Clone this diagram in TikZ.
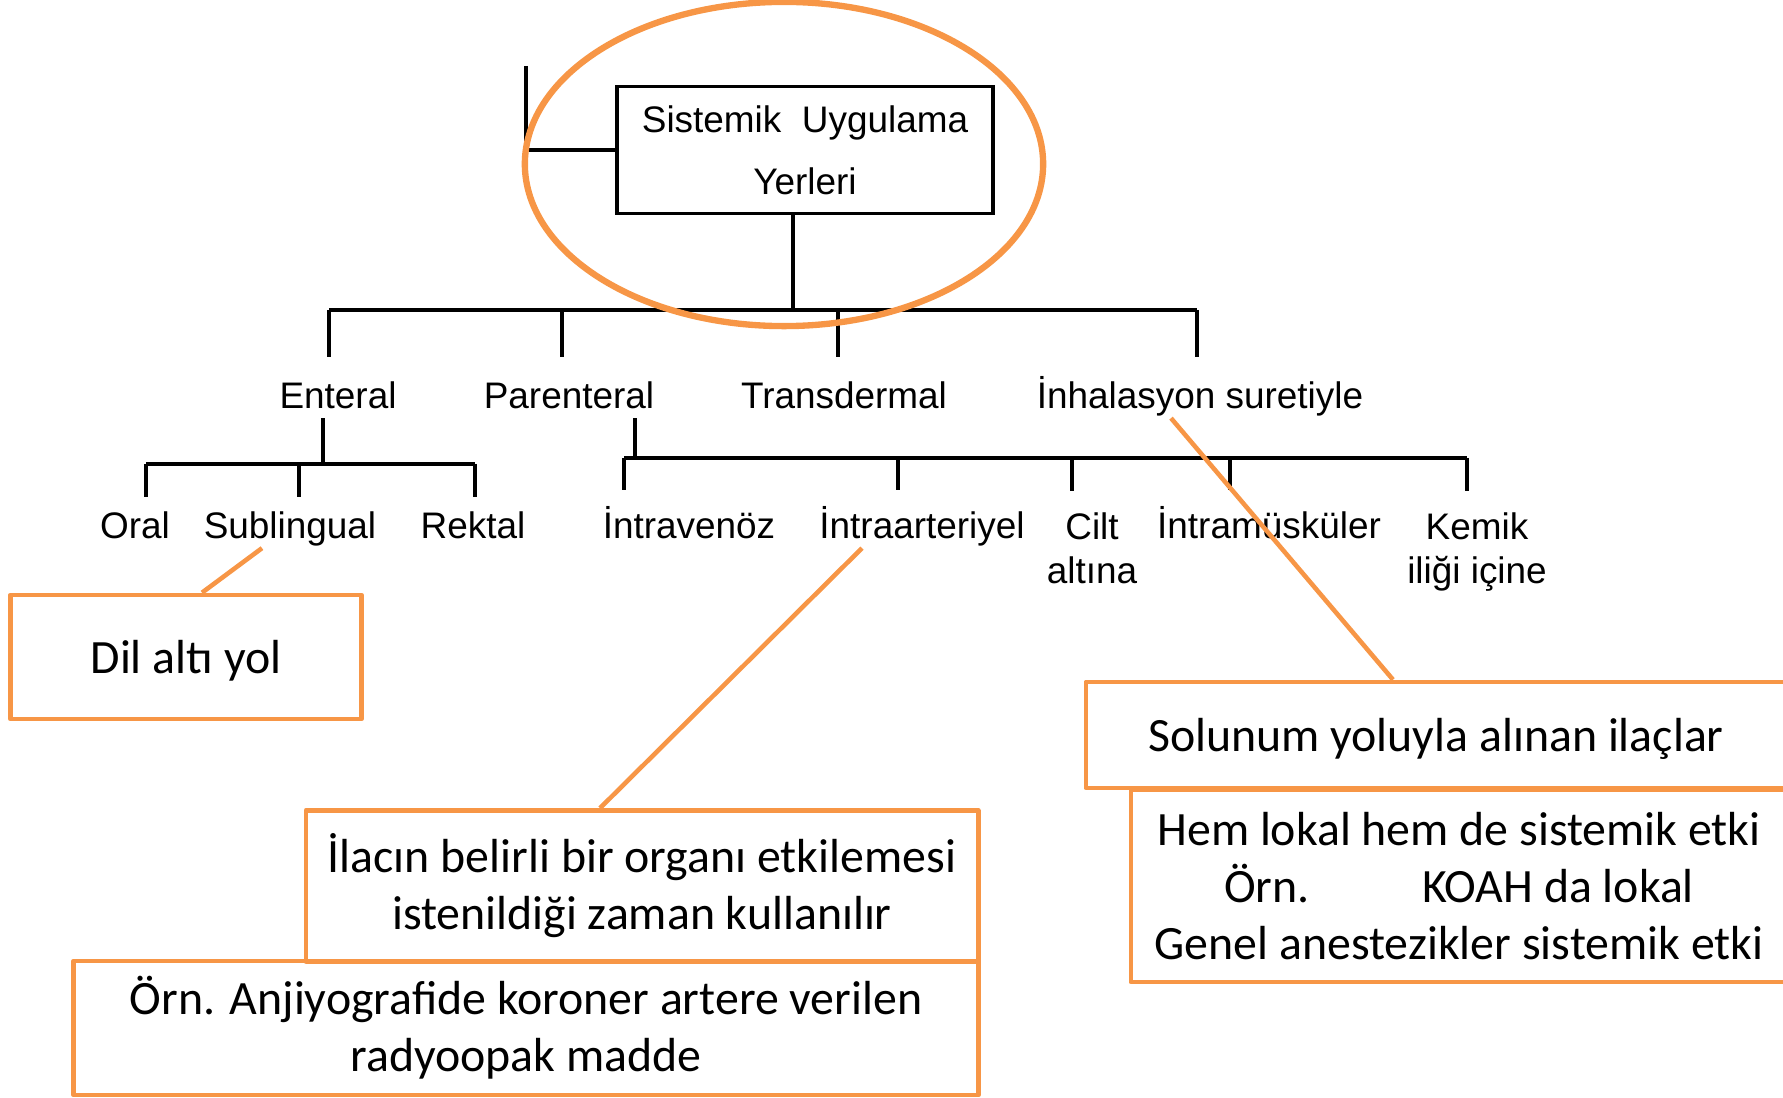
\documentclass[tikz,border=0pt]{standalone}
\usepackage{fontspec}
\newfontfamily\treefont{Liberation Sans}
\newfontfamily\notefont{Carlito}
\definecolor{noteorange}{HTML}{F79646}

\begin{document}
\begin{tikzpicture}[x = 0.01cm, y = -0.01cm,
	tree/.style = {line width = 1pt, color = black},
	route/.style = {font = \treefont\fontsize{10.5}{12.6}\selectfont, inner sep = 0pt, text height = 7.7pt, text depth = 2.4pt, anchor = base},
	twoline/.style = {font = \treefont\fontsize{10.5}{12.6}\selectfont, inner sep = 0pt, align = center, anchor = north},
	note/.style = {draw = noteorange, line width = 1.3pt, line join = round, font = \notefont\fontsize{13.6}{16.2}\selectfont, align = center, inner sep = 0pt},
	pointer/.style = {draw = noteorange, line width = 1.3pt},
	ring/.style = {draw = noteorange, line width = 1.8pt}]

	% Page frame (pixels of the slide, y pointing down)

	\useasboundingbox (0, 0) rectangle (1783, 1098);

	% Chart of the routes

	\node [draw, tree, minimum width = 3.76cm, minimum height = 1.27cm, align = center, inner sep = 0pt,
		font = \treefont\fontsize{10.5}{17.6}\selectfont] (root) at (805, 150) {Sistemik\ \ Uygulama\\Yerleri};

	\node [route] (enteral) at (338, 409) {Enteral};
	\node [route] (parenteral) at (569, 409) {Parenteral};
	\node [route] (transdermal) at (844, 409) {Transdermal};
	\node [route] (inhalasyon) at (1200, 409) {İnhalasyon suretiyle};

	\node [route] (oral) at (135, 539) {Oral};
	\node [route] (sublingual) at (290, 539) {Sublingual};
	\node [route] (rektal) at (473, 539) {Rektal};

	\node [route] (intravenoz) at (689, 539) {İntravenöz};
	\node [route] (intraarteriyel) at (922, 539) {İntraarteriyel};
	\node [twoline] (cilt) at (1092, 512) {Cilt\\altına};
	\node [route] (intramuskuler) at (1269, 539) {İntramüsküler};
	\node [twoline] (kemik) at (1477, 512) {Kemik\\iliği içine};

	% Bracket lines

	\coordinate (stub) at (526, 66);
	\coordinate (mainbus) at (793, 310);
	\coordinate (busL) at (329, 310);
	\coordinate (busR) at (1197, 310);
	\coordinate (entbus) at (323, 464);
	\coordinate (entL) at (146, 464);
	\coordinate (entR) at (475, 464);
	\coordinate (parbus) at (635, 458);
	\coordinate (parL) at (624, 458);
	\coordinate (parR) at (1467, 458);

	\begin{scope}[tree]

		\draw (stub) |- (root.west);
		\draw (root.south -| mainbus) -- (mainbus);
		\draw (busL) -- (busR);
		\foreach \n/\x in {enteral/329, parenteral/562, transdermal/838, inhalasyon/1197}
			\draw [shorten >= 7pt] (mainbus -| \x,0) -- (\n.north -| \x,0);

		\draw (enteral.south -| entbus) -- (entbus);
		\draw (entL) -- (entR);
		\foreach \n/\x in {oral/146, sublingual/299, rektal/475}
			\draw [shorten >= 4pt] (entbus -| \x,0) -- (\n.north -| \x,0);

		\draw (parenteral.south -| parbus) -- (parbus);
		\draw (parL) -- (parR);
		\foreach \n/\x in {intravenoz/624, intraarteriyel/898, cilt/1072, intramuskuler/1230, kemik/1467}
			\draw [shorten >= 6pt] (parbus -| \x,0) -- (\n.north -| \x,0);

	\end{scope}

	% Notes

	\node [note, text depth = 0pt, minimum width = 3.51cm, minimum height = 1.24cm] (dil) at (186, 657) {Dil altı yol};
	\node [note, minimum width = 6.72cm, minimum height = 1.51cm] (ilacin) at (642, 886) {İlacın belirli bir organı etkilemesi\\istenildiği zaman kullanılır};
	\node [note, minimum width = 9.04cm, minimum height = 1.34cm] (ornek) at (526, 1028) {Örn. Anjiyografide koroner artere verilen\\radyoopak madde};
	\node [note, text depth = 0pt, minimum width = 7cm, minimum height = 1.06cm] (solunum) at (1436, 735) {Solunum yoluyla alınan ilaçlar};
	\node [note, minimum width = 6.56cm, minimum height = 1.92cm] (hemlokal) at (1459, 886) {Hem lokal hem de sistemik etki\\Örn.\hspace{2.35em}KOAH da lokal\\Genel anestezikler sistemik etki};

	\draw [pointer] ([xshift = -0.28cm] sublingual.south) -- ([xshift = 0.16cm] dil.north);
	\draw [pointer] ([xshift = -0.6cm] intraarteriyel.south) -- ([xshift = -0.42cm] ilacin.north);
	\draw [pointer] ([xshift = -0.29cm] inhalasyon.south) -- ([xshift = -0.43cm] solunum.north);

	% Highlight round the root

	\draw [ring] ([xshift = -0.21cm, yshift = -0.14cm] root.center) ellipse [x radius = 2.59cm, y radius = 1.62cm];

\end{tikzpicture}
\end{document}
